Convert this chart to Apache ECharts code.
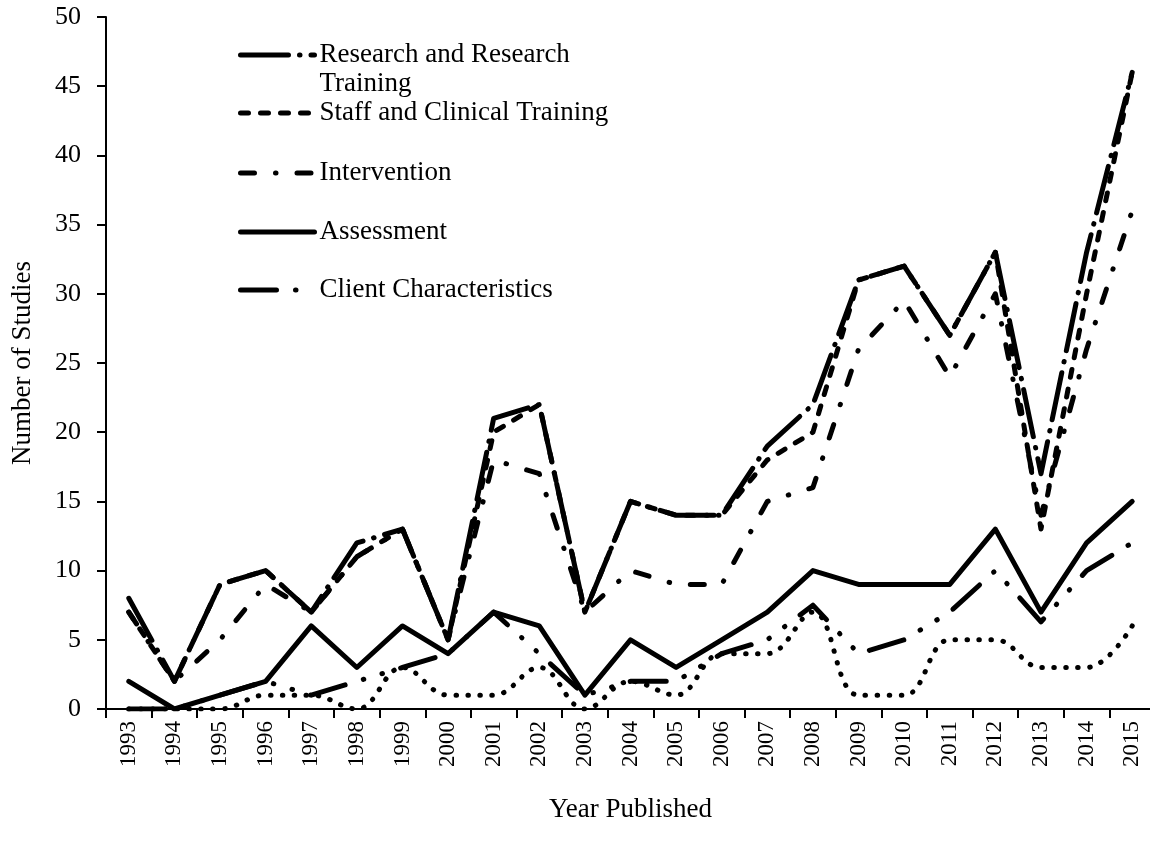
<!DOCTYPE html>
<html>
<head>
    <meta charset="utf-8">
    <title>Studies by year</title>
    <script src="https://cdn.jsdelivr.net/npm/echarts@6/dist/echarts.min.js"></script>
    <style>
        html, body { margin: 0; padding: 0; background: #fff; }
    </style>
</head>
<body>
<div id="main" style="width: 1150px;height:854px"></div>
<script type="text/javascript">
    // values
    var years = ['1993', '1994', '1995', '1996', '1997', '1998', '1999', '2000', '2001', '2002', '2003', '2004',
        '2005', '2006', '2007', '2008', '2009', '2010', '2011', '2012', '2013', '2014', '2015'];
    var research = [8, 2, 9, 10, 7, 12, 13, 5, 21, 22, 7, 15, 14, 14, 19, 22, 31, 32, 27, 33, 17, 33, 46];
    var staff = [7, 2, 9, 10, 7, 11, 13, 5, 20, 22, 7, 15, 14, 14, 18, 20, 31, 32, 27, 33, 13, 30, 46];
    var intervention = [7, 2, 5, 9, 7, 11, 13, 5, 18, 17, 7, 10, 9, 9, 15, 16, 26, 29.5, 24, 30, 14, 26, 36];
    var assessment = [2, 0, 1, 2, 6, 3, 6, 4, 7, 6, 1, 5, 3, 5, 7, 10, 9, 9, 9, 13, 7, 12, 15];
    var client = [0, 0, 1, 2, 1, 2, 3, 4, 7, 4, 1, 2, 2, 4, 5, 7.5, 4, 5, 7, 10, 6.3, 10, 12];
    var dotted = [0, 0, 0, 1, 1, 0, 3, 1, 1, 3, 0, 2, 1, 4, 4, 7, 1, 1, 5, 5, 3, 3, 6];

    var font = '"Liberation Serif", "Times New Roman", serif';

    var myChart = echarts.init(document.getElementById('main'));

    function lineSeries(name, data, type, extra) {
        var s = {
            name: name,
            type: 'line',
            data: data,
            symbol: 'none',
            silent: true,
            itemStyle: { color: '#000' },
            lineStyle: {
                color: '#000',
                width: 5,
                type: type,
                cap: 'round',
                join: 'round'
            }
        };
        if (extra) {
            for (var k in extra) s[k] = extra[k];
        }
        return s;
    }

    function legendAt(name, top, fmt) {
        return {
            data: [name],
            left: 238,
            top: top,
            itemWidth: 74,
            itemHeight: 10,
            itemGap: 0,
            padding: 0,
            selectedMode: false,
            formatter: fmt || '{name}',
            itemStyle: { opacity: 0 },
            lineStyle: { width: 5, cap: 'round' },
            textStyle: {
                fontFamily: font,
                fontSize: 27,
                color: '#000',
                lineHeight: 29
            }
        };
    }

    var option = {
        animation: false,
        backgroundColor: '#fff',
        grid: {
            left: 106,
            top: 17,
            width: 1049,
            height: 692,
            containLabel: false,
            outerBoundsMode: 'none'
        },
        legend: [
            legendAt('Research and Research Training', 11.5, ' \nResearch and Research\nTraining'),
            legendAt('Staff and Clinical Training', 98.5),
            legendAt('Intervention', 158.5),
            legendAt('Assessment', 217.5),
            legendAt('Client Characteristics', 275.5)
        ],
        xAxis: {
            type: 'category',
            data: years,
            boundaryGap: true,
            name: 'Year Published',
            nameLocation: 'middle',
            nameGap: 87,
            nameTextStyle: {
                fontFamily: font,
                fontSize: 27,
                color: '#000'
            },
            axisLine: { lineStyle: { color: '#000', width: 2 } },
            axisTick: { show: true, length: 9, interval: 0, lineStyle: { color: '#000', width: 2 } },
            axisLabel: {
                rotate: 90,
                interval: 0,
                margin: 12,
                fontFamily: font,
                fontSize: 23,
                color: '#000'
            },
            splitLine: { show: false }
        },
        yAxis: {
            type: 'value',
            min: 0,
            max: 50,
            interval: 5,
            name: 'Number of Studies',
            nameLocation: 'middle',
            nameGap: 70,
            nameRotate: 90,
            nameTextStyle: {
                fontFamily: font,
                fontSize: 27,
                color: '#000'
            },
            axisLine: { show: true, lineStyle: { color: '#000', width: 2 } },
            axisTick: { show: true, length: 9, lineStyle: { color: '#000', width: 2 } },
            axisLabel: {
                margin: 25,
                fontFamily: font,
                fontSize: 26,
                color: '#000'
            },
            splitLine: { show: false }
        },
        series: [
            lineSeries('Research and Research Training', research, [48, 11, 0.5, 11]),
            lineSeries('Staff and Clinical Training', staff, [8, 12]),
            lineSeries('Intervention', intervention, [14, 21, 0.5, 21]),
            lineSeries('Assessment', assessment, 'solid'),
            lineSeries('Client Characteristics', client, [36, 19, 0.5, 19, 0.5, 19]),
            lineSeries('Other', dotted, [0.5, 11.5], { smooth: 0.4 })
        ]
    };

    myChart.setOption(option);
</script>
</body>
</html>
